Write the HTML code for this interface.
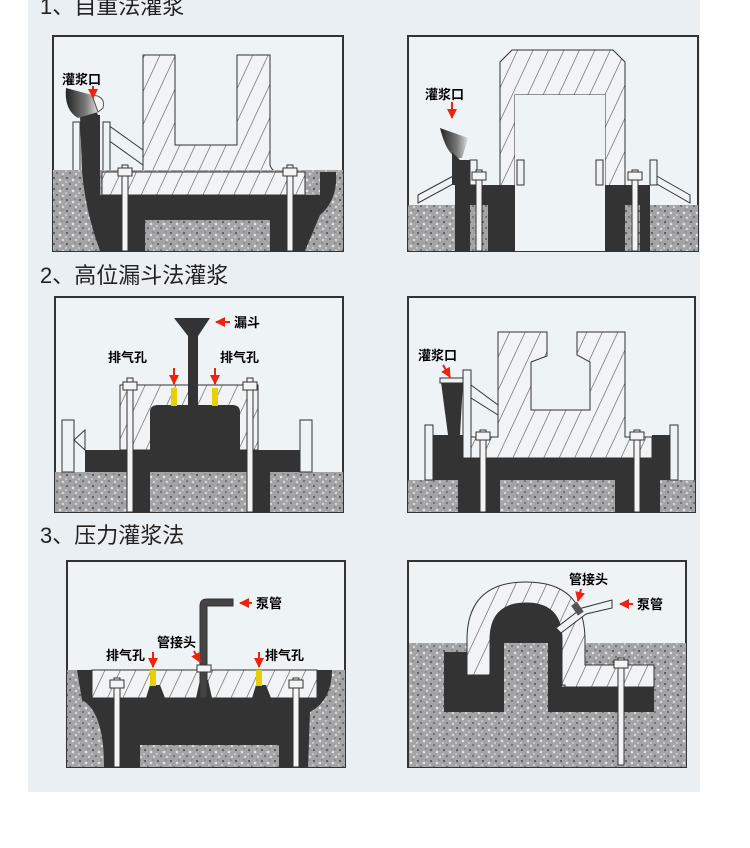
<!DOCTYPE html><html><head><meta charset="utf-8"><style>
body{margin:0;background:#fff;}
svg{display:block}
text{font-family:"Liberation Sans","Noto Sans CJK SC",sans-serif;}
</style></head><body>
<svg width="750" height="848" viewBox="0 0 750 848" xmlns="http://www.w3.org/2000/svg">
<defs>
<pattern id="h" width="14" height="14" patternUnits="userSpaceOnUse" patternTransform="rotate(25)">
<rect width="14" height="14" fill="#f1f3f4"/><line x1="0" y1="0" x2="0" y2="14" stroke="#555" stroke-width="1.2"/></pattern>
<pattern id="g" width="13" height="11" patternUnits="userSpaceOnUse">
<rect width="13" height="11" fill="#a4a4a6"/>
<circle cx="2" cy="2" r="1.1" fill="#5a5a5c"/><circle cx="8" cy="4" r="1.3" fill="#e4e4e4"/><circle cx="5" cy="8" r="1" fill="#666"/><circle cx="11" cy="9" r="1.2" fill="#d8d8d8"/><circle cx="10" cy="1" r="0.8" fill="#777"/><circle cx="1" cy="6" r="0.9" fill="#ddd"/>
</pattern>
<linearGradient id="cup" x1="0" x2="1"><stop offset="0" stop-color="#222"/><stop offset="0.6" stop-color="#777"/><stop offset="1" stop-color="#ddd"/></linearGradient>
<marker id="ar" viewBox="0 0 10 10" refX="9" refY="5" markerWidth="5" markerHeight="5" orient="auto"><path d="M0,0L10,5L0,10z" fill="#e21"/></marker>
</defs>
<rect x="28" y="0" width="672" height="792" fill="#e9eff3"/>
<g font-size="22" fill="#222">
<text x="40" y="14">1、自重法灌浆</text>
<text x="40" y="283">2、高位漏斗法灌浆</text>
<text x="40" y="543">3、压力灌浆法</text>
</g>

<!-- P1 -->
<rect x="53" y="36" width="290" height="215" fill="#eef3f6" stroke="#333" stroke-width="2"/>
<path d="M143,55H175V145H237V55H270V165Q272,172 280,172H305V195H102V172H143Z" fill="url(#h)" stroke="#333"/>
<path d="M108,125L143,150V165L108,140Z" fill="#eef3f6" stroke="#333"/>
<rect x="73" y="122" width="7" height="50" fill="#eef3f6" stroke="#333"/><rect x="103" y="122" width="7" height="50" fill="#eef3f6" stroke="#333"/>
<rect x="53" y="170" width="290" height="81" fill="url(#g)"/>
<path d="M80,115H100V195H102V172V195H320V172H336Q338,200 320,215L305,251H100Q85,210 82,170Z" fill="#333"/>
<rect x="102" y="172" width="203" height="23" fill="url(#h)" stroke="#333"/>
<rect x="145" y="220" width="125" height="31" fill="url(#g)"/>
<path d="M80,105Q92,100 98,115L100,172H82Z" fill="#333"/>
<path d="M66,88L92,95L98,112L78,118Q64,110 66,88Z" fill="url(#cup)"/>
<path d="M92,95Q106,96 103,108L98,112Z" fill="#f4f4f4" stroke="#555"/>
<g fill="#f4f4f4" stroke="#333"><rect x="122" y="165" width="6" height="86"/><rect x="118" y="168" width="14" height="8"/><rect x="287" y="165" width="6" height="86"/><rect x="283" y="168" width="14" height="8"/></g>
<text x="62" y="84" font-size="13" font-weight="bold">灌浆口</text>
<line x1="93" y1="86" x2="93" y2="98" stroke="#e21" stroke-width="2" marker-end="url(#ar)"/>

<!-- P2 -->
<rect x="408" y="36" width="290" height="215" fill="#eef3f6" stroke="#333" stroke-width="2"/>
<path d="M500,190V62L512,50H613L625,62V190H605V95H515V190Z" fill="url(#h)" stroke="#333"/>
<rect x="408" y="205" width="290" height="46" fill="url(#g)"/>
<rect x="515" y="95" width="90" height="156" fill="#eef3f6"/>
<path d="M455,160H470V185H515V251H488V205H470V251H455Z" fill="#333"/>
<path d="M605,185H650V251H640V205H625V251H605Z" fill="#333"/>
<path d="M418,195L455,175V183L418,203Z M655,175L690,195V203L655,183Z" fill="#eef3f6" stroke="#333"/>
<rect x="470" y="160" width="7" height="25" fill="#eef3f6" stroke="#333"/><rect x="517" y="160" width="7" height="25" fill="#eef3f6" stroke="#333"/><rect x="596" y="160" width="7" height="25" fill="#eef3f6" stroke="#333"/><rect x="650" y="160" width="7" height="25" fill="#eef3f6" stroke="#333"/>
<path d="M440,128L468,138L462,158Q448,160 440,128Z" fill="url(#cup)"/><path d="M452,152L460,160V185H452Z" fill="#333"/>
<g fill="#f4f4f4" stroke="#333"><rect x="476" y="170" width="6" height="81"/><rect x="472" y="172" width="14" height="8"/><rect x="632" y="170" width="6" height="81"/><rect x="628" y="172" width="14" height="8"/></g>
<text x="425" y="99" font-size="13" font-weight="bold">灌浆口</text>
<line x1="452" y1="102" x2="452" y2="118" stroke="#e21" stroke-width="2" marker-end="url(#ar)"/>

<!-- P3 -->
<rect x="55" y="297" width="288" height="215" fill="#eef3f6" stroke="#333" stroke-width="2"/>
<path d="M120,385H258V450H120Z" fill="url(#h)" stroke="#333"/>
<rect x="55" y="472" width="288" height="40" fill="url(#g)"/>
<path d="M85,450H300V472H270V512H130V472H85Z" fill="#333"/>
<rect x="150" y="472" width="100" height="40" fill="url(#g)"/>
<path d="M150,472V412Q150,405 158,405H232Q240,405 240,412V472Z" fill="#333"/>
<path d="M174,318H210L198,336V405H188V336Z" fill="#333"/>
<rect x="171" y="388" width="6" height="18" fill="#e8d000"/><rect x="212" y="388" width="6" height="18" fill="#e8d000"/>
<rect x="62" y="420" width="12" height="52" fill="#eef3f6" stroke="#333"/><rect x="300" y="420" width="12" height="52" fill="#eef3f6" stroke="#333"/>
<path d="M74,440L85,430V450Z" fill="none" stroke="#333"/>
<g fill="#f4f4f4" stroke="#333"><rect x="127" y="378" width="6" height="134"/><rect x="123" y="382" width="14" height="8"/><rect x="247" y="378" width="6" height="134"/><rect x="243" y="382" width="14" height="8"/></g>
<g font-size="13" font-weight="bold"><text x="234" y="327">漏斗</text><text x="108" y="362">排气孔</text><text x="220" y="362">排气孔</text></g>
<line x1="230" y1="322" x2="216" y2="322" stroke="#e21" stroke-width="2" marker-end="url(#ar)"/>
<line x1="174" y1="368" x2="174" y2="384" stroke="#e21" stroke-width="2" marker-end="url(#ar)"/>
<line x1="215" y1="368" x2="215" y2="384" stroke="#e21" stroke-width="2" marker-end="url(#ar)"/>

<!-- P4 -->
<rect x="408" y="297" width="287" height="215" fill="#eef3f6" stroke="#333" stroke-width="2"/>
<path d="M498,332H547V356L531,362V410H590V362L577,355V332H625V437H652V458H463V437H498Z" fill="url(#h)" stroke="#333"/>
<rect x="408" y="480" width="287" height="32" fill="url(#g)"/>
<path d="M432,435H463V458H652V435H670V480H660V512H615V480H500V512H458V480H432Z" fill="#333"/>
<path d="M441,382H463L460,435H448Z" fill="#333"/><rect x="440" y="378" width="24" height="5" fill="#eef3f6" stroke="#333"/>
<rect x="425" y="425" width="8" height="55" fill="#eef3f6" stroke="#333"/><rect x="463" y="370" width="8" height="88" fill="#eef3f6" stroke="#333"/><rect x="670" y="425" width="8" height="55" fill="#eef3f6" stroke="#333"/>
<path d="M471,385L498,405V415L471,398Z" fill="#eef3f6" stroke="#333"/>
<g fill="#f4f4f4" stroke="#333"><rect x="480" y="430" width="6" height="82"/><rect x="476" y="432" width="14" height="8"/><rect x="634" y="430" width="6" height="82"/><rect x="630" y="432" width="14" height="8"/></g>
<text x="418" y="360" font-size="13" font-weight="bold">灌浆口</text>
<line x1="443" y1="365" x2="450" y2="377" stroke="#e21" stroke-width="2" marker-end="url(#ar)"/>

<!-- P5 -->
<rect x="67" y="561" width="278" height="206" fill="#eef3f6" stroke="#333" stroke-width="2"/>
<rect x="67" y="670" width="278" height="97" fill="url(#g)"/>
<path d="M77,670H92V698H317V670H332Q332,700 310,712L308,767H279V745H140V767H104Q104,712 82,700Z" fill="#333"/>
<rect x="140" y="745" width="139" height="22" fill="url(#g)"/>
<path d="M92,670H317V698H92Z" fill="url(#h)" stroke="#333"/>
<path d="M146,698L150,685H160L165,698Z M252,698L256,685H266L271,698Z M196,698L200,680H208L212,698Z" fill="#333"/>
<rect x="150" y="670" width="6" height="16" fill="#e8d000"/><rect x="256" y="670" width="6" height="16" fill="#e8d000"/>
<path d="M200,698V606Q200,599 207,599H233V606H207V698Z" fill="#444" stroke="#333"/>
<rect x="197" y="665" width="14" height="7" fill="#f4f4f4" stroke="#333"/>
<g fill="#f4f4f4" stroke="#333"><rect x="114" y="678" width="6" height="89"/><rect x="110" y="680" width="14" height="8"/><rect x="293" y="678" width="6" height="89"/><rect x="289" y="680" width="14" height="8"/></g>
<g font-size="13" font-weight="bold"><text x="256" y="608">泵管</text><text x="157" y="647">管接头</text><text x="106" y="660">排气孔</text><text x="265" y="660">排气孔</text></g>
<line x1="252" y1="603" x2="240" y2="603" stroke="#e21" stroke-width="2" marker-end="url(#ar)"/>
<line x1="194" y1="651" x2="200" y2="662" stroke="#e21" stroke-width="2" marker-end="url(#ar)"/>
<line x1="153" y1="652" x2="153" y2="667" stroke="#e21" stroke-width="2" marker-end="url(#ar)"/>
<line x1="259" y1="652" x2="259" y2="667" stroke="#e21" stroke-width="2" marker-end="url(#ar)"/>

<!-- P6 -->
<rect x="408" y="561" width="278" height="206" fill="#eef3f6" stroke="#333" stroke-width="2"/>
<rect x="409" y="643" width="277" height="124" fill="url(#g)"/>
<path d="M467,675V640Q467,582 526,582Q585,582 585,640V665H654V687H565V685H562V640Q562,603 526,603Q490,603 490,640V675Z" fill="url(#h)" stroke="#333"/>
<path d="M444,652H467V675H490V640Q490,603 526,603Q562,603 562,640V687H654V712H504V643H548V712H444Z" fill="#333"/>
<rect x="504" y="643" width="44" height="69" fill="url(#g)"/>
<path d="M556,628L582,608L612,600V608L586,614L561,633Z" fill="#eef3f6" stroke="#333"/>
<rect x="574" y="603" width="7" height="12" fill="#555" transform="rotate(-35 577 609)"/>
<g fill="#f4f4f4" stroke="#333"><rect x="618" y="658" width="6" height="107"/><rect x="614" y="660" width="14" height="8"/></g>
<g font-size="13" font-weight="bold"><text x="569" y="584">管接头</text><text x="637" y="609">泵管</text></g>
<line x1="581" y1="589" x2="578" y2="601" stroke="#e21" stroke-width="2" marker-end="url(#ar)"/>
<line x1="633" y1="604" x2="620" y2="604" stroke="#e21" stroke-width="2" marker-end="url(#ar)"/>
</svg>
</body></html>
